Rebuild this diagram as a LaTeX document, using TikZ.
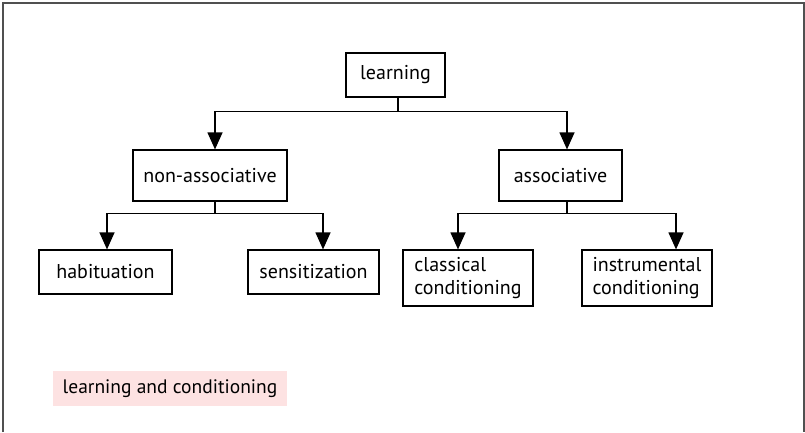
\documentclass[tikz,border=0pt]{standalone}
\usepackage{fontspec}
\setmainfont{PT Sans}
\usetikzlibrary{arrows.meta}

\definecolor{framegray}{RGB}{80,80,80}
\definecolor{captionpink}{RGB}{253,226,226}

\tikzset{
  box/.style={draw, line width=1.2pt, inner sep=0pt, font=\fontsize{20}{22}\selectfont},
  twoline/.style={box, align=left, font=\fontsize{20}{22.5}\selectfont},
  arr/.style={line width=1.2pt, -{Triangle[length=17pt, width=15pt]}}
}

\begin{document}
\begin{tikzpicture}[x=1pt, y=-1pt]
  \useasboundingbox (0,0) rectangle (805,432);
  \draw[framegray, line width=2pt] (3,432) -- (3,3) -- (804,3) -- (804,432);

  \node[box, minimum width=99pt, minimum height=44pt] (learn) at (395.5,75) {learning};
  \node[box, minimum width=154pt, minimum height=51pt] (nonassoc) at (210,175.5) {non-associative};
  \node[box, minimum width=123pt, minimum height=51pt] (assoc) at (560.5,175.5) {associative};

  \node[box, minimum width=133pt, minimum height=44pt] (habit) at (105.5,272) {habituation};
  \node[box, minimum width=131pt, minimum height=44pt] (sensit) at (313.5,272) {sensitization};
  \node[twoline, minimum width=130pt, minimum height=56pt] (classic) at (468,278) {classical\\conditioning};
  \node[twoline, minimum width=130pt, minimum height=56pt] (instrum) at (647,278) {instrumental\\conditioning};

  % top level
  \draw[line width=1.2pt] ([xshift=2.5pt]learn.south) -- ++(0,14) coordinate (j0);
  \draw[arr] (j0) -| ([xshift=5pt]nonassoc.north);
  \draw[arr] (j0) -| ([xshift=6.5pt]assoc.north);

  % non-associative
  \draw[line width=1.2pt] ([xshift=5pt]nonassoc.south) -- ++(0,12) coordinate (j1);
  \draw[arr] (j1) -| ([xshift=1.5pt]habit.north);
  \draw[arr] (j1) -| ([xshift=9.5pt]sensit.north);

  % associative
  \draw[line width=1.2pt] ([xshift=6.5pt]assoc.south) -- ++(0,12) coordinate (j2);
  \draw[arr] (j2) -| ([xshift=-10pt]classic.north);
  \draw[arr] (j2) -| ([xshift=29pt]instrum.north);

  \node[fill=captionpink, minimum width=234pt, minimum height=35pt, inner sep=0pt,
        font=\fontsize{19.5}{22}\selectfont] (cap) at (170,388.5) {learning and conditioning};
\end{tikzpicture}
\end{document}
